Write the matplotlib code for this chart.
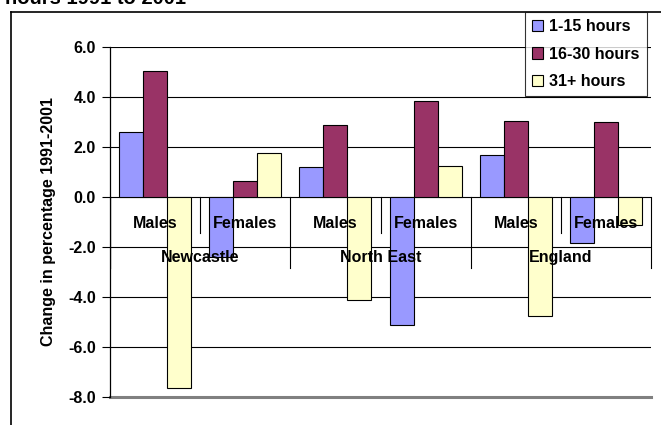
import matplotlib
matplotlib.use("Agg")
import matplotlib.pyplot as plt
from matplotlib.lines import Line2D
import numpy as np

plt.rcParams['font.family'] = ['Liberation Sans', 'DejaVu Sans']
plt.rcParams['font.weight'] = 'bold'

# data
areas = ["Newcastle", "North East", "England"]
sexes = ["Males", "Females"]
series_names = ["1-15 hours", "16-30 hours", "31+ hours"]
h_1_15 = [2.6, -2.4, 1.2, -5.1, 1.7, -1.85]
h_16_30 = [5.05, 0.65, 2.9, 3.85, 3.05, 3.0]
h_31plus = [-7.65, 1.75, -4.1, 1.25, -4.75, -1.1]
colors = ["#9999FF", "#993366", "#FFFFCC"]

W, H = 661, 425
fig = plt.figure(figsize=(W / 100, H / 100), dpi=100)
ax = fig.add_axes([110 / W, (H - 397) / H, (651 - 110) / W, (397 - 47) / H])

n = len(h_1_15)
x = np.arange(n) + 0.5
bw = 0.8 / 3
for i, vals in enumerate([h_1_15, h_16_30, h_31plus]):
    ax.bar(x + (i - 1) * bw, vals, width=bw, color=colors[i],
           edgecolor='black', linewidth=0.8, label=series_names[i], zorder=3)

ax.set_xlim(0, n)
ax.set_ylim(-8, 6)
ax.set_yticks(np.arange(-8, 7, 2))
ax.set_yticklabels(["%.1f" % v for v in np.arange(-8, 7, 2)], fontsize=11.5, fontweight='bold')
ax.tick_params(axis='y', length=6, width=0.8, pad=4)
ax.set_xticks([])

for v in range(-6, 7, 2):
    ax.axhline(v, color='black', lw=0.8, zorder=1)
ax.axhline(-8, color='#808080', lw=2.2, zorder=1, clip_on=False)

for s in ['top', 'right', 'bottom']:
    ax.spines[s].set_visible(False)
ax.spines['left'].set_linewidth(0.9)

# category axis at zero with separators and two-level labels
for k in range(1, n + 1):
    depth = -1.44 if k % 2 == 1 else -2.84
    ax.plot([k, k], [0, depth], color='black', lw=0.8, zorder=4, clip_on=False)
ax.plot([0, 0], [0, -2.84], color='black', lw=0.9, zorder=4)
for k in range(n):
    ax.text(k + 0.5, -1.05, sexes[k % 2], ha='center', va='center',
            fontsize=11.5, fontweight='bold', zorder=5)
for g, name in enumerate(areas):
    ax.text(2 * g + 1, -2.42, name, ha='center', va='center',
            fontsize=11.5, fontweight='bold', zorder=5)

ax.set_ylabel("Change in percentage 1991-2001", fontsize=11.5, fontweight='bold')
ax.yaxis.set_label_coords(-54 / (651 - 110), 0.5)

leg = fig.legend(loc='upper right', bbox_to_anchor=(647 / W, 1 - 12 / H),
                 frameon=True, fancybox=False, edgecolor='black',
                 fontsize=11.5, handlelength=0.7, handleheight=0.7,
                 handletextpad=0.4, labelspacing=0.78, borderpad=0.45,
                 borderaxespad=0)
leg.get_frame().set_linewidth(0.8)

# outer chart frame and clipped title from the page
fig.add_artist(Line2D([11 / W, 11 / W], [0, 1 - 12 / H], color='black', lw=1.2))
fig.add_artist(Line2D([11 / W, 1], [1 - 12 / H, 1 - 12 / H], color='black', lw=1.2))
fig.text(5 / W, 1 - 4 / H, "hours 1991 to 2001", fontsize=14.5, fontweight='bold',
         ha='left', va='baseline')

fig.savefig("out.png", dpi=100)
